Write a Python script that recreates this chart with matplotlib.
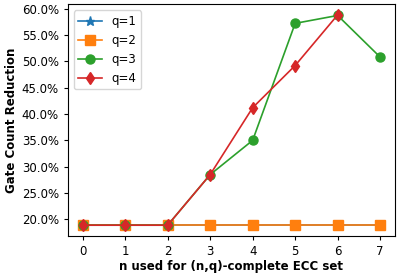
import matplotlib
matplotlib.use("Agg")
import matplotlib.pyplot as plt
from matplotlib.ticker import FuncFormatter

n = [0, 1, 2, 3, 4, 5, 6, 7]
q1 = [0.189] * 8
q2 = [0.189] * 8
q3 = [0.189, 0.189, 0.189, 0.285, 0.350, 0.572, 0.587, 0.508]
n4 = [0, 1, 2, 3, 4, 5, 6]
q4 = [0.189, 0.189, 0.189, 0.285, 0.412, 0.492, 0.588]

plt.rcParams['font.size'] = 8
plt.rcParams['axes.linewidth'] = 0.8

fig = plt.figure(figsize=(3.99, 2.76), dpi=100)
ax = fig.add_axes([0.17, 0.146, 0.82, 0.838])

ax.plot(n, q1, marker='*', markersize=6.5, lw=1.2, label='q=1')
ax.plot(n, q2, marker='s', markersize=6.5, lw=1.2, label='q=2')
ax.plot(n, q3, marker='o', markersize=6.5, lw=1.2, label='q=3')
ax.plot(n4, q4, marker='d', markersize=6.5, lw=1.2, label='q=4')

ax.yaxis.set_major_formatter(FuncFormatter(lambda v, p: "{:.1f}%".format(v * 100)))
ax.tick_params(labelsize=8.5, width=0.8, length=3)
ax.set_xlabel("n used for (n,q)-complete ECC set", fontweight='bold', fontsize=8.5, labelpad=1.5)
ax.set_ylabel("Gate Count Reduction", fontweight='bold', fontsize=8.5, labelpad=3)
ax.legend(loc='upper left', fontsize=8.5)

fig.savefig("out.png", dpi=100)
